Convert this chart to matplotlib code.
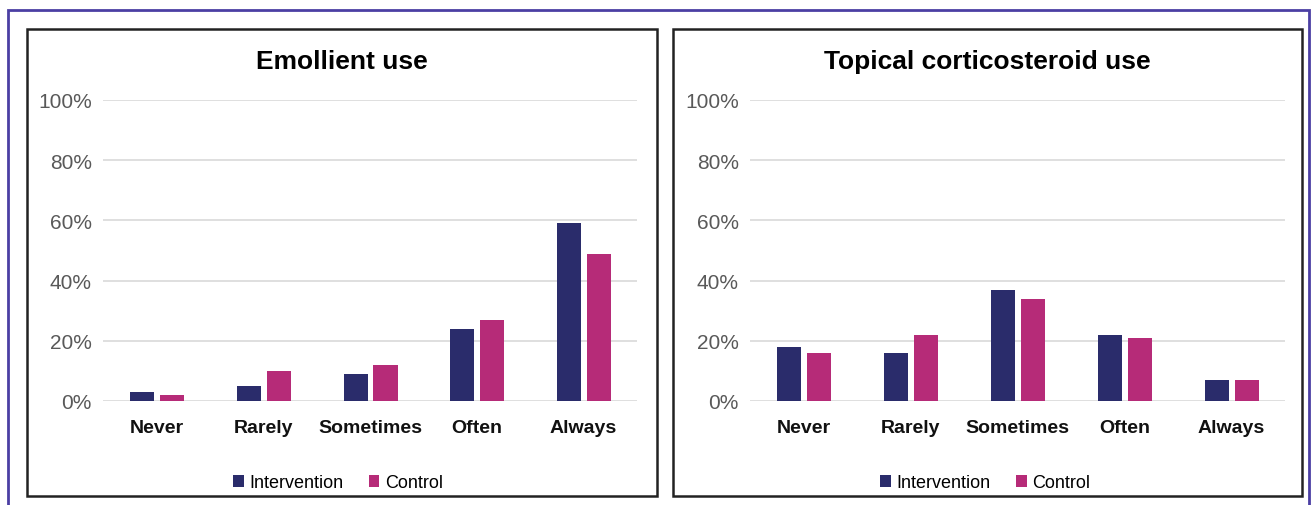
import matplotlib.pyplot as plt
from matplotlib.patches import Rectangle
import numpy as np

categorias = ['Never', 'Rarely', 'Sometimes', 'Often', 'Always']
emoliente_intervencion = [3, 5, 9, 24, 59]
emoliente_control = [2, 10, 12, 27, 49]
corticoide_intervencion = [18, 16, 37, 22, 7]
corticoide_control = [16, 22, 34, 21, 7]
titulos = ['Emollient use', 'Topical corticosteroid use']
series = ['Intervention', 'Control']

color_int = '#2a2c6b'
color_ctrl = '#b62b78'

plt.rcParams['font.family'] = ['Liberation Sans', 'DejaVu Sans']

W, H = 1314, 506
fig = plt.figure(figsize=(W / 100, H / 100), dpi=100)

def px(x0, y0, x1, y1):
    # caja en pixeles (origen arriba-izquierda) -> fracciones de la figura
    return [x0 / W, 1 - y1 / H, (x1 - x0) / W, (y1 - y0) / H]

# marco exterior morado
fig.patches.append(Rectangle((8 / W, -0.1), (1309 - 8) / W, 1.1 - 11 / H,
                             transform=fig.transFigure, fill=False,
                             edgecolor='#4b3fa3', linewidth=2))

paneles = [
    (27, 657, 103, 637, emoliente_intervencion, emoliente_control),
    (673, 1302, 750, 1285, corticoide_intervencion, corticoide_control),
]

x = np.arange(len(categorias))
for k, (bx0, bx1, ax0, ax1, v_int, v_ctrl) in enumerate(paneles):
    # caja del panel
    fig.patches.append(Rectangle((bx0 / W, 1 - 497 / H), (bx1 - bx0) / W, (497 - 30) / H,
                                 transform=fig.transFigure, fill=False,
                                 edgecolor='#222222', linewidth=1.8))
    ax = fig.add_axes(px(ax0, 101, ax1, 402))
    ax.bar(x - 0.135, np.array(v_int) / 100, width=0.225, color=color_int, label=series[0], zorder=3)
    ax.bar(x + 0.145, np.array(v_ctrl) / 100, width=0.225, color=color_ctrl, label=series[1], zorder=3)
    ax.set_xlim(-0.5, len(categorias) - 0.5)
    ax.set_ylim(0, 1)
    ax.set_yticks([0, 0.2, 0.4, 0.6, 0.8, 1.0])
    ax.set_yticklabels(['0%', '20%', '40%', '60%', '80%', '100%'], color='#595959', fontsize=15)
    ax.set_xticks(x)
    ax.set_xticklabels(categorias, fontsize=14, fontweight='bold', color='#111111')
    ax.tick_params(axis='both', length=0)
    ax.tick_params(axis='y', pad=8)
    ax.tick_params(axis='x', pad=13)
    ax.yaxis.grid(True, color='#d9d9d9', linewidth=1.2, zorder=0)
    ax.set_axisbelow(True)
    for s in ax.spines.values():
        s.set_visible(False)
    # el titulo va centrado en la caja del panel, no en los ejes
    centro = ((bx0 + bx1) / 2 - ax0) / (ax1 - ax0)
    ax.set_title(titulos[k], fontsize=19, fontweight='bold', pad=23, x=centro)
    ax.legend(loc='upper center', bbox_to_anchor=(0.44, -0.19), ncol=2, frameon=False,
              fontsize=13, handlelength=0.6, handleheight=0.6, handletextpad=0.3,
              columnspacing=1.4)

fig.savefig('out.png', dpi=100)
